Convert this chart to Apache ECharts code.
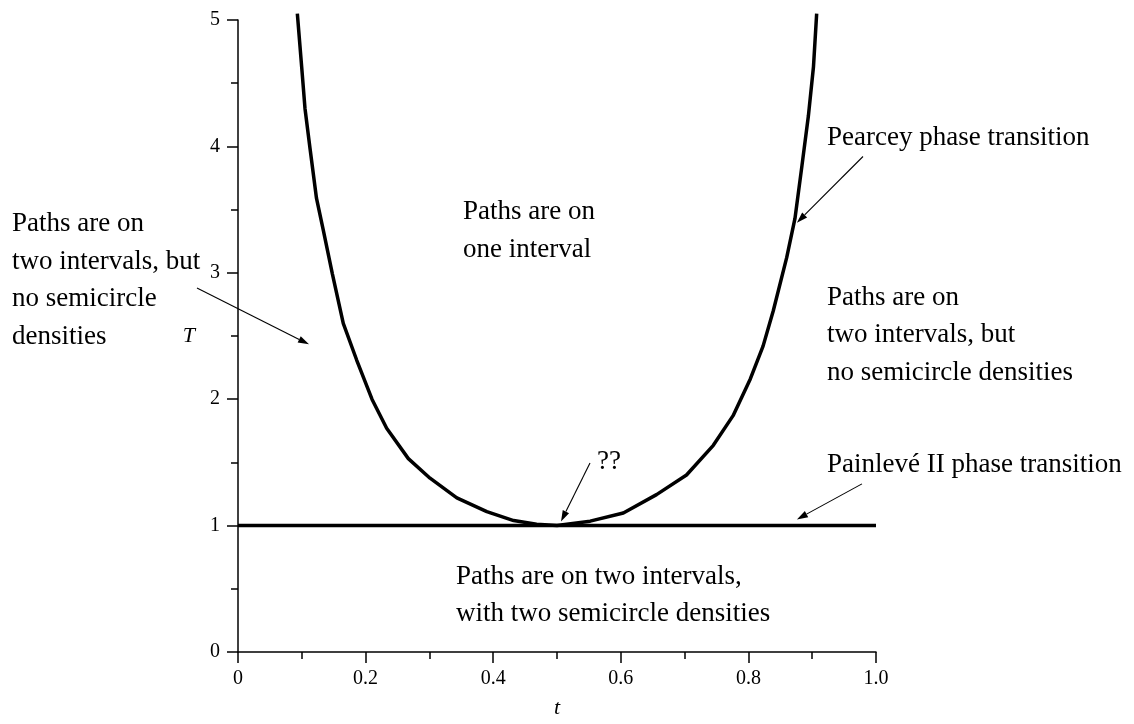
<!DOCTYPE html>
<html><head><meta charset="utf-8">
<script src="https://cdn.jsdelivr.net/npm/echarts@6/dist/echarts.min.js"></script>
<style>html,body{margin:0;padding:0;background:#fff}#c{width:1134px;height:724px}</style>
</head><body><div id="c"></div>
<script>
// Critical curve T(t)
const curveT = [0.093, 0.0998, 0.105, 0.113, 0.123, 0.134, 0.148, 0.165, 0.186, 0.210, 0.233, 0.267, 0.301, 0.343, 0.390, 0.432, 0.468, 0.500, 0.552, 0.604, 0.656, 0.703, 0.745, 0.776, 0.803, 0.823, 0.839, 0.860, 0.873, 0.884, 0.894, 0.902, 0.907];
const curveV = [5.05, 4.63, 4.30, 3.98, 3.59, 3.33, 2.99, 2.60, 2.31, 2.00, 1.77, 1.53, 1.375, 1.22, 1.11, 1.04, 1.01, 1.00, 1.035, 1.10, 1.245, 1.40, 1.635, 1.87, 2.16, 2.42, 2.70, 3.12, 3.43, 3.85, 4.24, 4.63, 5.05];
// Painlevé II line T = 1
const phaseLineT = [0, 1.0];
const phaseLineV = [1, 1];
// tick labels
const xTickLabels = ['0', '0.2', '0.4', '0.6', '0.8', '1.0'];
const yTickLabels = ['0', '1', '2', '3', '4', '5'];
// annotation texts (anchor in data coords: left edge, vertical middle)
const noteTexts = [
  'Paths are on\ntwo intervals, but\nno semicircle\ndensities',
  'Paths are on\none interval',
  'Pearcey phase transition',
  'Paths are on\ntwo intervals, but\nno semicircle densities',
  'Painlevé II phase transition',
  '??',
  'Paths are on two intervals,\nwith two semicircle densities'
];
const noteT = [-0.3542, 0.3527, 0.9232, 0.9232, 0.9232, 0.5627, 0.3417];
const noteV = [2.940, 3.331, 4.067, 2.505, 1.484, 1.500, 0.4476];
// annotation arrows: start -> tip (data coords)
const arrowFromT = [-0.0643, 0.9796, 0.5517, 0.978];
const arrowFromV = [2.88, 3.92, 1.495, 1.33];
const arrowToT = [0.1113, 0.876, 0.5063, 0.876];
const arrowToV = [2.434, 3.396, 1.033, 1.049];

const FONT = "'Liberation Serif', 'Times New Roman', serif";
const chart = echarts.init(document.getElementById('c'), null, {renderer: 'canvas'});
const option = {
  animation: false,
  backgroundColor: '#fff',
  grid: {left: 238, right: 258, top: 20, bottom: 65, containLabel: false},
  xAxis: {
    type: 'value', min: 0, max: 1, interval: 0.2,
    name: 't', nameLocation: 'middle', nameGap: 45,
    nameTextStyle: {fontFamily: FONT, fontStyle: 'italic', fontSize: 22, color: '#000'},
    axisLine: {show: true, onZero: false, lineStyle: {color: '#000', width: 1.5}},
    axisTick: {show: true, inside: false, length: 11, lineStyle: {color: '#000', width: 1.5}},
    minorTick: {show: true, splitNumber: 2, length: 7, lineStyle: {color: '#000', width: 1.5}},
    splitLine: {show: false},
    axisLabel: {fontFamily: FONT, fontSize: 20, color: '#000', margin: 17,
      formatter: v => xTickLabels[Math.round(v / 0.2)] ?? ''}
  },
  yAxis: {
    type: 'value', min: 0, max: 5, interval: 1,
    name: 'T', nameLocation: 'middle', nameGap: 43, nameRotate: 0,
    nameTextStyle: {fontFamily: FONT, fontStyle: 'italic', fontSize: 22, color: '#000'},
    axisLine: {show: true, onZero: false, lineStyle: {color: '#000', width: 1.5}},
    axisTick: {show: true, inside: false, length: 11, lineStyle: {color: '#000', width: 1.5}},
    minorTick: {show: true, splitNumber: 2, length: 7, lineStyle: {color: '#000', width: 1.5}},
    splitLine: {show: false},
    axisLabel: {fontFamily: FONT, fontSize: 20, color: '#000', margin: 18,
      formatter: v => yTickLabels[Math.round(v)] ?? ''}
  },
  series: [
    {type: 'line', data: curveT.map((t, i) => [t, curveV[i]]), showSymbol: false, clip: false,
     lineStyle: {color: '#000', width: 3.5}, z: 3},
    {type: 'line', data: phaseLineT.map((t, i) => [t, phaseLineV[i]]), showSymbol: false, clip: false,
     lineStyle: {color: '#000', width: 3.5}, z: 3}
  ]
};
chart.setOption(option);

function px(t, v) { return chart.convertToPixel({gridIndex: 0}, [t, v]); }
const g = [];
noteTexts.forEach((s, i) => {
  const p = px(noteT[i], noteV[i]);
  g.push({type: 'text', x: p[0], y: p[1], z: 10,
    style: {text: s, fontFamily: FONT, fontSize: 27, fill: '#000', lineHeight: 37.5,
      align: 'left', verticalAlign: 'middle'}});
});
arrowFromT.forEach((t, i) => {
  const a = px(t, arrowFromV[i]);
  const b = px(arrowToT[i], arrowToV[i]);
  const dx = b[0] - a[0], dy = b[1] - a[1];
  const L = Math.hypot(dx, dy), ux = dx / L, uy = dy / L;
  const hl = 11, hw = 3.5;
  const bx = b[0] - ux * hl, by = b[1] - uy * hl;
  g.push({type: 'line', z: 10, shape: {x1: a[0], y1: a[1], x2: bx, y2: by},
    style: {stroke: '#000', lineWidth: 1.1}});
  g.push({type: 'polygon', z: 10, shape: {points: [[b[0], b[1]], [bx - uy * hw, by + ux * hw], [bx + uy * hw, by - ux * hw]]},
    style: {fill: '#000'}});
});
chart.setOption({graphic: g});
</script>
</body></html>
